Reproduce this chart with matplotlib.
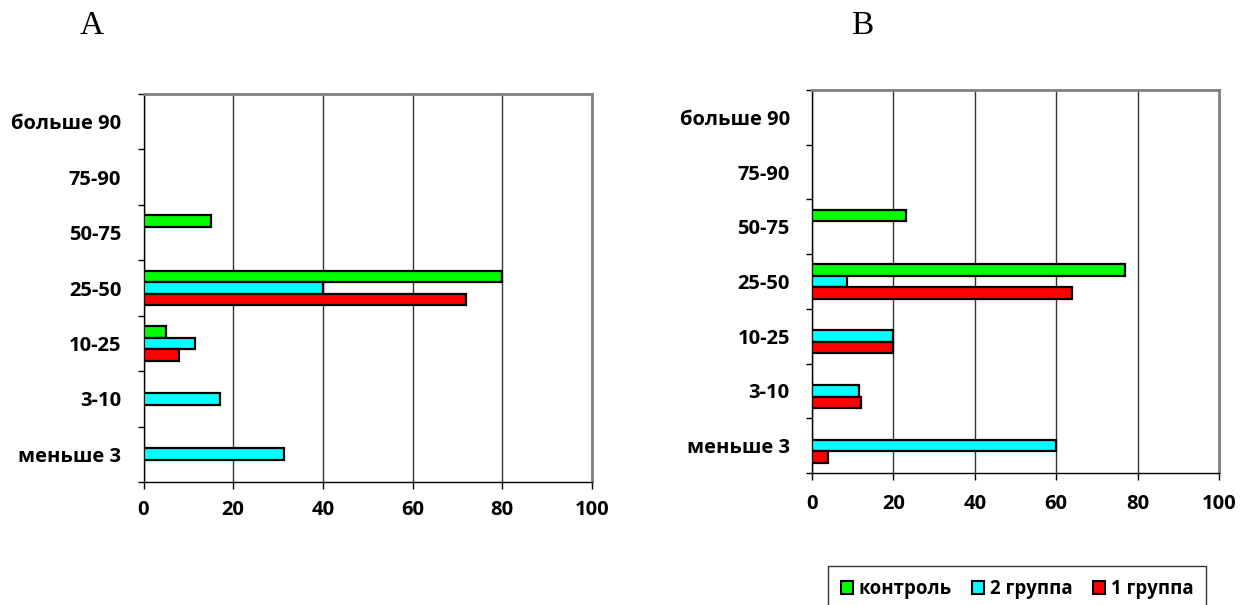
import numpy as np
import matplotlib
matplotlib.use("Agg")
import matplotlib.pyplot as plt
from matplotlib.patches import Patch

# категории (снизу вверх)
cats = ["меньше 3", "3-10", "10-25", "25-50", "50-75", "75-90", "больше 90"]
series_names = ["контроль", "2 группа", "1 группа"]
colors = ["#00FF00", "#00FFFF", "#FF0000"]

# панель A
a_control = [0, 0, 5, 80, 15, 0, 0]
a_group2 = [31.3, 17, 11.5, 40, 0, 0, 0]
a_group1 = [0, 0, 8, 72, 0, 0, 0]

# панель B
b_control = [0, 0, 0, 77, 23, 0, 0]
b_group2 = [60, 11.5, 20, 8.5, 0, 0, 0]
b_group1 = [4, 12, 20, 64, 0, 0, 0]

xticks = [0, 20, 40, 60, 80, 100]

plt.rcParams["font.family"] = ["Open Sans", "DejaVu Sans"]

fig = plt.figure(figsize=(12.53, 6.05), dpi=100)
axA = fig.add_axes([143.5 / 1253, 1 - 482 / 605, 448.5 / 1253, 388 / 605])
axB = fig.add_axes([812 / 1253, 1 - 473 / 605, 407 / 1253, 383 / 605])

h = 0.21


def draw(ax, data, xpad):
    y = np.arange(len(cats))
    offsets = [h, 0, -h]
    for vals, off, c in zip(data, offsets, colors):
        vals = np.array(vals, dtype=float)
        m = vals > 0
        ax.barh(y[m] + off, vals[m], height=h, color=c,
                edgecolor="black", linewidth=1.6, zorder=3)
    ax.set_xlim(0, 100)
    ax.set_ylim(-0.5, len(cats) - 0.5)
    ax.set_xticks(xticks)
    ax.set_xticklabels([str(t) for t in xticks], fontsize=14.5, fontweight="bold")
    ax.set_yticks(y)
    ax.set_yticklabels(cats, fontsize=14.5, fontweight="bold")
    ax.set_yticks(np.arange(len(cats) + 1) - 0.5, minor=True)
    ax.tick_params(axis="y", which="major", length=0, pad=16)
    ax.tick_params(axis="y", which="minor", length=4.5, width=1, direction="out")
    ax.tick_params(axis="x", length=5, width=1, direction="out", pad=xpad)
    ax.grid(axis="x", color="#333333", linewidth=1, zorder=0)
    for s in ["left", "bottom"]:
        ax.spines[s].set_color("black")
        ax.spines[s].set_linewidth(1)
    for s in ["top", "right"]:
        ax.spines[s].set_color("#808080")
        ax.spines[s].set_linewidth(2)


draw(axA, [a_control, a_group2, a_group1], 8)
draw(axB, [b_control, b_group2, b_group1], 10)

fig.text(92 / 1253, 1 - 26 / 605, "A", family="Liberation Serif",
         fontsize=24, ha="center", va="center")
fig.text(862 / 1253, 1 - 26 / 605, "B", family="Liberation Serif",
         fontsize=24, ha="center", va="center")

handles = [Patch(facecolor=c, edgecolor="black", linewidth=1.5) for c in colors]
leg = fig.legend(handles, series_names, loc="upper left",
                 bbox_to_anchor=(828 / 1253, 1 - 566 / 605), ncol=3,
                 frameon=True, fancybox=False, edgecolor="black",
                 prop={"weight": "bold", "size": 13.4},
                 handlelength=0.65, handleheight=0.65, handletextpad=0.3,
                 columnspacing=1.1, borderpad=0.7, borderaxespad=0)
leg.get_frame().set_linewidth(1)

fig.savefig("out.png", dpi=100)
